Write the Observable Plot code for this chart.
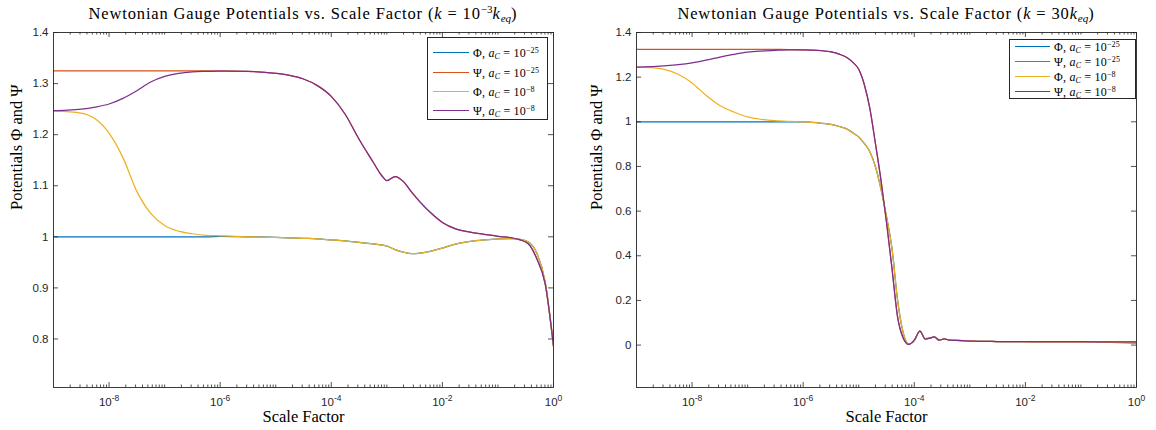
<!DOCTYPE html>
<html>
<head>
<meta charset="utf-8">
<script src="https://cdn.jsdelivr.net/npm/d3@7"></script>
<script src="https://cdn.jsdelivr.net/npm/@observablehq/plot@0.6"></script>
<style>
  body { margin: 0; background: #fff; }
  #wrap { display: flex; width: 1156px; height: 430px; overflow: hidden; }
  .panel { position: relative; width: 578px; height: 430px; }
  .title { position: absolute; top: 3px; height: 22px; line-height: 22px; text-align: center;
           font-family: "Liberation Serif", serif; font-size: 16.5px; letter-spacing: 0.85px; color: #000; white-space: nowrap; }
  .title sup { font-size: 11px; vertical-align: 6px; line-height: 0; letter-spacing: 0; }
  .title sub { font-size: 11px; vertical-align: -3px; line-height: 0; letter-spacing: 0; }
  .plotbox { position: absolute; top: 26px; left: 0; }
  .legend { position: absolute; background: #fff; border: 1px solid #262626; box-sizing: border-box;
            font-family: "Liberation Serif", serif; font-size: 12px; letter-spacing: 0.2px; color: #000; }
  .legend .row { position: absolute; left: 0; height: 14px; }
  .legend .sw { position: absolute; height: 0; }
  .legend .lab { position: absolute; white-space: nowrap; line-height: 14px; top: -7px; }
  .legend sup { font-size: 8px; vertical-align: 4px; line-height: 0; }
  .legend sub { font-size: 8px; vertical-align: -2px; line-height: 0; }
</style>
</head>
<body>
<div id="wrap"></div>
<script>
// ---------------- data ----------------
const seriesKeys = ["phi25", "psi25", "phi8", "psi8"];
const seriesColors = ["#0072BD", "#D95319", "#EDB120", "#7E2F8E"];
const legendSymbols = ["Φ", "Ψ", "Φ", "Ψ"];
const legendExponents = ["−25", "−25", "−8", "−8"];

// Left panel: k = 1e-3 k_eq   (log10 of scale factor)
const logA_left = [-9,-8.75,-8.5,-8.25,-8,-7.75,-7.5,-7.25,-7,-6.75,-6.5,-6.25,-6,-5.5,-5,-4.75,-4.5,-4.25,-4,-3.75,-3.5,-3.25,-3.1,-3.0,-2.85,-2.7,-2.55,-2.4,-2.2,-2,-1.75,-1.5,-1.25,-1,-0.75,-0.6,-0.45,-0.3,-0.15,0];
const psi8_left  = [1.247,1.248,1.250,1.254,1.260,1.271,1.286,1.303,1.314,1.320,1.323,1.324,1.3245,1.324,1.320,1.316,1.309,1.296,1.275,1.240,1.191,1.147,1.121,1.110,1.118,1.108,1.087,1.068,1.046,1.028,1.015,1.009,1.005,1.001,0.998,0.994,0.986,0.957,0.908,0.787];
const psi25_left = [1.325,1.325,1.325,1.325,1.325,1.325,1.325,1.325,1.325,1.325,1.325,1.325,1.3248,1.324,1.320,1.316,1.309,1.296,1.275,1.240,1.191,1.147,1.121,1.110,1.118,1.108,1.087,1.068,1.046,1.028,1.015,1.009,1.005,1.001,0.998,0.994,0.986,0.957,0.908,0.787];
const phi8_left  = [1.246,1.245,1.242,1.231,1.203,1.155,1.089,1.046,1.022,1.011,1.006,1.003,1.002,1.000,0.999,0.998,0.997,0.996,0.994,0.992,0.989,0.986,0.984,0.982,0.975,0.970,0.967,0.968,0.972,0.978,0.986,0.991,0.994,0.996,0.9965,0.995,0.990,0.968,0.912,0.785];
const phi25_left = [1.000,1.000,1.000,1.000,1.000,1.000,1.000,1.000,1.000,1.000,1.000,1.000,1.001,1.000,0.999,0.998,0.997,0.996,0.994,0.992,0.989,0.986,0.984,0.982,0.975,0.970,0.967,0.968,0.972,0.978,0.986,0.991,0.994,0.996,0.9965,0.995,0.990,0.968,0.912,0.785];
const yTicks_left = [0.8, 0.9, 1, 1.1, 1.2, 1.3, 1.4];

// Right panel: k = 30 k_eq
const logA_right = [-9,-8.75,-8.5,-8.25,-8,-7.75,-7.5,-7.25,-7,-6.75,-6.5,-6.25,-6,-5.75,-5.5,-5.35,-5.2,-5.1,-5.0,-4.9,-4.8,-4.7,-4.6,-4.5,-4.4,-4.3,-4.2,-4.1,-4.0,-3.9,-3.8,-3.72,-3.64,-3.55,-3.46,-3.37,-3.25,-3.0,-2.5,-2,-1,0];
const psi8_right  = [1.245,1.247,1.251,1.256,1.264,1.276,1.290,1.302,1.312,1.317,1.320,1.322,1.322,1.320,1.313,1.303,1.286,1.265,1.235,1.167,1.060,0.904,0.740,0.550,0.340,0.125,0.032,0.003,0.022,0.062,0.027,0.031,0.037,0.022,0.028,0.022,0.021,0.018,0.016,0.015,0.015,0.014];
const psi25_right = [1.324,1.324,1.324,1.324,1.324,1.324,1.324,1.324,1.324,1.324,1.324,1.3235,1.3225,1.320,1.313,1.303,1.286,1.265,1.235,1.167,1.060,0.904,0.740,0.550,0.340,0.125,0.032,0.003,0.022,0.062,0.027,0.031,0.037,0.022,0.028,0.022,0.021,0.018,0.016,0.015,0.014,0.009];
const phi8_right  = [1.245,1.243,1.235,1.213,1.174,1.119,1.073,1.044,1.022,1.011,1.005,1.002,1.000,0.996,0.988,0.979,0.966,0.950,0.932,0.903,0.866,0.800,0.700,0.575,0.430,0.200,0.056,0.004,0.020,0.062,0.029,0.031,0.037,0.022,0.028,0.022,0.021,0.018,0.016,0.015,0.015,0.013];
const phi25_right = [1.000,1.000,1.000,1.000,1.000,1.000,1.000,1.000,1.000,1.000,1.000,1.000,1.000,0.996,0.988,0.979,0.966,0.950,0.932,0.903,0.866,0.800,0.700,0.575,0.430,0.200,0.056,0.004,0.020,0.062,0.029,0.031,0.037,0.022,0.028,0.022,0.021,0.018,0.016,0.015,0.015,0.013];
const yTicks_right = [0, 0.2, 0.4, 0.6, 0.8, 1, 1.2, 1.4];

const xMajorExponents = [-8, -6, -4, -2, 0];

// ---------------- drawing ----------------
const axisColor = "#262626";
const sans = "Liberation Sans, Arial, sans-serif";
const serif = "Liberation Serif, serif";

const xMajor = xMajorExponents.map(e => Math.pow(10, e));
const xMinor = [];
for (let e = -9; e < 0; e++) for (let m = 1; m <= 9; m++) {
  const v = m * Math.pow(10, e);
  if (m === 1 && (e === -9 || xMajorExponents.includes(e))) continue;
  xMinor.push(v);
}

function makePanel(p) {
  const W = 578, H = 404, mt = 6, mb = 43;
  const ph = H - mt - mb;
  const pw = W - p.ml - p.mr;
  const vals = [p.phi25, p.psi25, p.phi8, p.psi8];
  const lines = vals.map((arr, i) =>
    Plot.lineY(p.logA.map((l, j) => ({a: Math.pow(10, l), v: arr[j]})),
      {x: "a", y: "v", stroke: seriesColors[i], strokeWidth: 1.25, curve: "monotone-x", clip: true}));
  const fmt = d3.format("~g");
  const svg = Plot.plot({
    width: W, height: H, marginLeft: p.ml, marginRight: p.mr, marginTop: mt, marginBottom: mb,
    style: {background: "white", overflow: "visible"},
    x: {type: "log", domain: [1e-9, 1], axis: null},
    y: {domain: p.yDomain, axis: null},
    marks: [
      ...lines,
      Plot.frame({stroke: axisColor, strokeWidth: 0.9}),
      Plot.tickX(xMajor, {x: d => d, insetTop: ph - 5, stroke: axisColor, strokeWidth: 0.8}),
      Plot.tickX(xMajor, {x: d => d, insetBottom: ph - 5, stroke: axisColor, strokeWidth: 0.8}),
      Plot.tickX(xMinor, {x: d => d, insetTop: ph - 2.5, stroke: axisColor, strokeWidth: 0.8}),
      Plot.tickX(xMinor, {x: d => d, insetBottom: ph - 2.5, stroke: axisColor, strokeWidth: 0.8}),
      Plot.tickY(p.yTicks, {y: d => d, insetRight: pw - 5, stroke: axisColor, strokeWidth: 0.8}),
      Plot.tickY(p.yTicks, {y: d => d, insetLeft: pw - 5, stroke: axisColor, strokeWidth: 0.8}),
      Plot.text(p.yTicks, {y: d => d, frameAnchor: "left", dx: -5, textAnchor: "end", text: d => fmt(d),
        fill: axisColor, fontFamily: sans, fontSize: 11.5}),
      Plot.text(xMajor, {x: d => d, frameAnchor: "bottom", dy: 18, text: d => "10^" + Math.round(Math.log10(d)),
        fill: axisColor, fontFamily: sans, fontSize: 11.5}),
      Plot.text(["Scale Factor"], {frameAnchor: "bottom", dy: 34, text: d => d, fill: "#000",
        fontFamily: serif, fontSize: 16.5, letterSpacing: 0.6}),
      Plot.text(["Potentials Φ and Ψ"], {frameAnchor: "left", dx: p.ylabDx, rotate: -90, text: d => d, fill: "#000",
        fontFamily: serif, fontSize: 16.5, letterSpacing: 0.6})
    ]
  });
  // superscript exponents on log tick labels
  svg.querySelectorAll("text").forEach(t => {
    const s = t.textContent;
    const m = /^10\^(-?\d+)$/.exec(s);
    if (!m) return;
    t.textContent = "";
    const ns = "http://www.w3.org/2000/svg";
    const a = document.createElementNS(ns, "tspan"); a.textContent = "10";
    const b = document.createElementNS(ns, "tspan"); b.textContent = m[1];
    b.setAttribute("dy", "-5"); b.setAttribute("font-size", "8.5");
    t.appendChild(a); t.appendChild(b);
  });

  const panel = document.createElement("div");
  panel.className = "panel";
  const title = document.createElement("div");
  title.className = "title";
  title.style.left = p.ml + "px";
  title.style.width = pw + "px";
  title.innerHTML = p.titleHTML;
  panel.appendChild(title);
  const box = document.createElement("div");
  box.className = "plotbox";
  box.appendChild(svg);
  panel.appendChild(box);

  const lg = document.createElement("div");
  lg.className = "legend";
  Object.assign(lg.style, {left: p.lg.left + "px", top: p.lg.top + "px", width: p.lg.w + "px", height: p.lg.h + "px"});
  seriesKeys.forEach((k, i) => {
    const row = document.createElement("div");
    row.className = "row";
    row.style.top = p.lg.rows[i] + "px";
    row.style.width = "100%";
    const sw = document.createElement("div");
    sw.className = "sw";
    Object.assign(sw.style, {left: p.lg.sx0 + "px", width: (p.lg.sx1 - p.lg.sx0) + "px", top: "-0.6px",
      borderTop: "1.25px solid " + seriesColors[i]});
    const lab = document.createElement("div");
    lab.className = "lab";
    lab.style.left = p.lg.tx + "px";
    lab.innerHTML = legendSymbols[i] + ", <i>a</i><sub><i>C</i></sub> = 10<sup>" + legendExponents[i] + "</sup>";
    row.appendChild(sw); row.appendChild(lab);
    lg.appendChild(row);
  });
  panel.appendChild(lg);
  return panel;
}

const wrap = document.getElementById("wrap");
wrap.appendChild(makePanel({
  logA: logA_left, phi25: phi25_left, psi25: psi25_left, phi8: phi8_left, psi8: psi8_left,
  yDomain: [0.705, 1.4], yTicks: yTicks_left, ml: 53, mr: 25, ylabDx: -37,
  titleHTML: 'Newtonian Gauge Potentials vs. Scale Factor (<i>k</i> = 10<sup>−3</sup><i>k<sub>eq</sub></i>)',
  lg: {left: 427, top: 37, w: 121, h: 83, rows: [15, 34.5, 54, 73], sx0: 5, sx1: 41, tx: 45}
}));
wrap.appendChild(makePanel({
  logA: logA_right, phi25: phi25_right, psi25: psi25_right, phi8: phi8_right, psi8: psi8_right,
  yDomain: [-0.19, 1.4], yTicks: yTicks_right, ml: 58, mr: 20, ylabDx: -40,
  titleHTML: 'Newtonian Gauge Potentials vs. Scale Factor (<i>k</i> = 30<i>k<sub>eq</sub></i>)',
  lg: {left: 431, top: 39, w: 127, h: 60, rows: [7, 22, 37, 51.5], sx0: 5, sx1: 40, tx: 44}
}));
</script>
</body>
</html>
